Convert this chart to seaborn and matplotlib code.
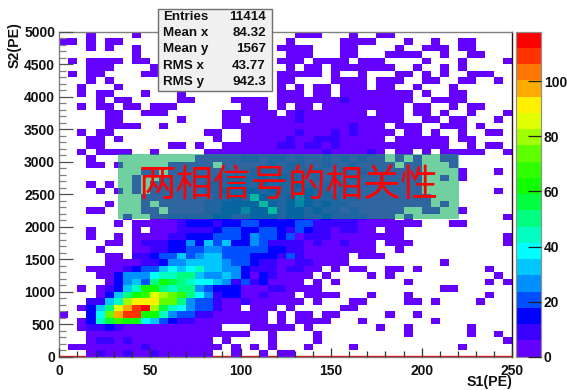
import matplotlib
matplotlib.use("Agg")
import matplotlib.pyplot as plt
import numpy as np
import seaborn as sns
from matplotlib.colors import ListedColormap
from matplotlib.patches import Rectangle
from matplotlib.ticker import FixedLocator

sns.set_style("white")
plt.rcParams["font.family"] = ["Liberation Sans", "DejaVu Sans"]
plt.rcParams["axes.axisbelow"] = False

# contour band of every 2D bin, top row first, '.' = empty bin
# (50 columns in groups of 5, band number in base 36)
BANDAS = [
    "...0. ...0. ..... ..... ..... .000. ..0.. 00... ..... .....",
    "00.0. 00... ..... ..... ..... 0.... .0000 ...0. .0..0 0....",
    "...0. 0..0. ..... ..... ....0 000.. .00.. ..0.. 000.0 0....",
    "..... ...0. ..... ..... ..... 000.. .00.. .0000 ..0.. 00...",
    ".0.00 00.00 ..... ..... ....0 00.00 00.00 0.... 0...0 ....0",
    "...00 0.... 0.... ..... ..... 0.00. 00000 00..0 ..0.0 .....",
    ".0.00 ....0 0.... ..... ....0 0000. 0..0. ..00. 0.0.. 000..",
    "...0. 0.... ..... ..... ....0 0.... 0000. 000.. 00..0 0..0.",
    "..0.. .0... ..... ..... ....0 .0.00 .000. 00..0 ...0. .....",
    "..0.0 0...0 ...0. ..... ....0 00.00 .0000 0000. 0..00 .....",
    "....0 .00.. ...00 ....0 000.0 00000 01000 0000. .0000 .....",
    "..0.0 0.00. 000.. ..... 000.0 .00.0 00000 000.0 0..0. 00...",
    "..... 00..0 00... ...00 0000. 01000 0000. 000.0 0.0.. 0...0",
    "..... 00... ...0. ...00 .0000 01000 00000 000.. 00.00 ...0.",
    "..... 0000. .0... ...00 00000 00000 00100 0.000 ..000 .0...",
    "..0.0 0.... ..... .00.. 00000 01000 10100 00.00 .0..0 ..00.",
    "...00 .0... ..... ..0.. 00000 10011 10000 0.000 000.0 0....",
    "...00 ..... ..00. 0..00 00001 10110 10000 00000 000.. 0.00.",
    "..0.0 000.. 0.... .0000 00000 00001 00001 0.00. 0.000 00..0",
    "...0. ..... ..... 00000 11011 01001 01010 0.0.0 ..00. .....",
    "...00 .0... ..000 00.00 00010 11001 00100 00.00 ...0. .....",
    "..... ....0 0.000 00000 01111 10110 01010 00000 ....0 ...0.",
    "..... ...0. .0000 00111 11212 11010 10100 00000 ..0.0 .....",
    "...0. 0..0. 00000 01112 11211 12101 01000 00000 ..... .....",
    "....0 .0.0. 00000 01121 22121 11211 01000 00000 ..... ...0.",
    "..... ....0 00000 00112 15211 23211 10100 00000 0.... .....",
    "..... 0...0 .0000 01122 22521 23212 11000 00000 0.0.. .....",
    "...00 ....0 0.000 01122 32251 22121 10100 000.. 00..0 .....",
    "..... ..0.. 00111 11221 12221 22112 11110 00.0. ..... ....0",
    "..... .0.00 00012 22122 33222 23311 11100 00000 ...00 .....",
    "...0. ...0. 00011 11233 22332 13211 01100 .00.. ..... .....",
    "...0. .0.00 00112 22333 24332 30111 00000 000.. ..... ....0",
    "..... 00.01 11224 25352 24311 11010 01000 .000. ..... ....0",
    "....0 ...00 11223 34433 33322 11000 00000 ..0.. ..... .....",
    "..... 00.11 23353 45533 32221 31000 00.00 0.... ..... .....",
    "..... 00001 12445 55543 32110 01100 00... ..... ..0.. .....",
    "...00 00123 35656 75544 21110 1100. 0.00. .00.0 ..... ..0..",
    "....0 02444 67788 54454 20210 000.0 ....0 .0... ..... ...0.",
    "..... 02453 8a987 66541 31200 00.0. 0.... ...0. ..... ..0.0",
    "..0.0 1257a a8788 43222 00011 0000. ..... ..... ..00. .....",
    "....0 258ab edcb8 64122 00100 0.000 0...0 ...0. ..... ..0..",
    "...11 57dff fcc84 33100 10000 00.0. ..00. ...00 .0... .0...",
    "..025 8egij d9764 33100 .000. 0.... .00.. ..... ..... .....",
    "0..26 cgiia a7433 11000 000.0 .00.0 0.... .0..0 ..... .....",
    "..027 9baa6 53211 00000 000.0 .0000 ...0. ..... .0... .....",
    "..011 21000 00000 000.. .0000 0.0.. ..... 0..0. ..... 0....",
    "...00 00000 00000 00000 0..0. ...0. ..... ...0. ..... 0..0.",
    "...01 10100 00000 00.0. ...0. ...0. ..... ..... ..... ....0",
    ".0000 00001 00000 000.0 .0.0. ..0.. ..0.. ..... ....0 .....",
    "...01 00100 10000 00..0 ..0.0 0.... ..... ..... ..... .....",
]

COLORES = [
    "#6400ff", "#3a00ff", "#0000ff", "#0050ff", "#0090ff",
    "#00c8ff", "#00ffff", "#00ffc0", "#00ff80", "#00ff40",
    "#10ff00", "#30ff00", "#60ff00", "#a0ff00", "#e0ff00",
    "#fff000", "#ffaa00", "#ff7700", "#ff3300", "#ff0000",
]
Z_MAX = 118.0

X_TICKS = [0, 50, 100, 150, 200, 250]
Y_TICKS = [0, 500, 1000, 1500, 2000, 2500, 3000, 3500, 4000, 4500, 5000]
Z_TICKS = [0, 20, 40, 60, 80, 100]
ANCHO_X = 5
ANCHO_Y = 100

ESTAD_NOMBRES = ["Entries", "Mean x", "Mean y", "RMS x", "RMS y"]
ESTAD_VALORES = ["11414", "84.32", "1567", "43.77", "942.3"]

TITULO = "两相信号的相关性"


def fx(p):
    return p / 567


def fy(p):
    return 1 - p / 390


def leer_matriz():
    """Pasa las bandas leidas a cuentas (centro de cada banda)."""
    paso = Z_MAX / len(COLORES)
    filas = []
    for fila in BANDAS:
        fila = fila.replace(" ", "")
        filas.append([np.nan if c == "." else (int(c, 36) + 0.5) * paso for c in fila])
    return np.array(filas)


fig = plt.figure(figsize=(5.67, 3.90), dpi=100, facecolor="white")
ax = fig.add_axes([fx(59.3), fy(356.7), 453 / 567, 325 / 390])
cax = fig.add_axes([fx(515.5), fy(356.7), 25.5 / 567, 325 / 390])

matriz = leer_matriz()
sns.heatmap(
    matriz,
    ax=ax,
    cbar_ax=cax,
    cmap=ListedColormap(COLORES),
    vmin=0,
    vmax=Z_MAX,
    linewidths=0,
    xticklabels=False,
    yticklabels=False,
    cbar_kws={"ticks": Z_TICKS},
)

n_filas, n_cols = matriz.shape
negrita = {"fontsize": 9.6, "fontweight": "bold", "color": "#111111"}
marcas = dict(negrita, fontsize=10)

ax.set_axisbelow(False)
ax.xaxis.set_major_locator(FixedLocator([v / ANCHO_X for v in X_TICKS]))
ax.xaxis.set_minor_locator(FixedLocator([v / ANCHO_X for v in range(0, 251, 10)]))
ax.set_xticklabels([str(v) for v in X_TICKS], **marcas)
ax.yaxis.set_major_locator(FixedLocator([n_filas - v / ANCHO_Y for v in Y_TICKS]))
ax.yaxis.set_minor_locator(FixedLocator([n_filas - v / ANCHO_Y for v in range(0, 5001, 100)]))
ax.set_yticklabels([str(v) for v in Y_TICKS], rotation=0, **marcas)
ax.tick_params(axis="x", which="major", direction="in", length=6.7, width=0.9, color="#303030", pad=5, bottom=True)
ax.tick_params(axis="x", which="minor", direction="in", length=4, width=0.9, color="#303030", bottom=True)
ax.tick_params(axis="y", which="major", direction="in", length=10, width=0.9, color="#505050", pad=3, left=True)
ax.tick_params(axis="y", which="minor", direction="in", length=5, width=0.9, color="#808080", left=True)

# marco del histograma: rojo bajo las celdas abajo, rojo oscuro a la derecha
ax.axhline(n_filas, color="#e00000", linewidth=2.4, zorder=0.5)
for lado, color in [("top", "#808080"), ("left", "#808080"), ("bottom", "#808080"), ("right", "#301010")]:
    ax.spines[lado].set_visible(True)
    ax.spines[lado].set_color(color)
    ax.spines[lado].set_linewidth(1.0)

cax.set_axisbelow(False)
cax.tick_params(axis="y", direction="in", length=9.5, width=0.9, color="#202020", pad=2, right=True)
for etiqueta in cax.get_yticklabels():
    etiqueta.set_fontsize(10)
    etiqueta.set_fontweight("bold")
    etiqueta.set_color("#111111")
for lado in cax.spines.values():
    lado.set_visible(True)
    lado.set_color("#909090")
    lado.set_linewidth(0.8)

etiqueta_eje = dict(negrita, fontsize=10.2)
fig.text(fx(512), fy(382), "S1(PE)", ha="right", va="center", **etiqueta_eje)
fig.text(fx(15), fy(22), "S2(PE)", ha="center", va="top", rotation=90, **etiqueta_eje)

# caja de estadisticas, con su sombra
fig.add_artist(Rectangle((fx(159), fy(92)), 114 / 567, 82 / 390, transform=fig.transFigure,
                         facecolor="#303030", edgecolor="none", zorder=5))
fig.add_artist(Rectangle((fx(158), fy(91)), 114 / 567, 82 / 390, transform=fig.transFigure,
                         facecolor="#f0f0f0", edgecolor="#707070", linewidth=1.0, zorder=5))
for i, (nombre, valor) in enumerate(zip(ESTAD_NOMBRES, ESTAD_VALORES)):
    y = fy(17 + 16.2 * i)
    fig.text(fx(163), y, nombre, ha="left", va="center", zorder=6, **negrita)
    fig.text(fx(266), y, valor, ha="right", va="center", zorder=6, **negrita)

# banda del titulo sobre el grafico
fig.add_artist(Rectangle((fx(118), fy(219)), 341 / 567, 65 / 390, transform=fig.transFigure,
                         facecolor="#0caf5e", edgecolor="none", alpha=0.59, zorder=7))
fig.text(fx(288.5), fy(185), TITULO, ha="center", va="center", color="#ff0000", fontsize=27,
         family=["Noto Sans CJK SC", "DejaVu Sans"], zorder=8)

fig.savefig("out.png", dpi=100, facecolor="white")
plt.close(fig)
